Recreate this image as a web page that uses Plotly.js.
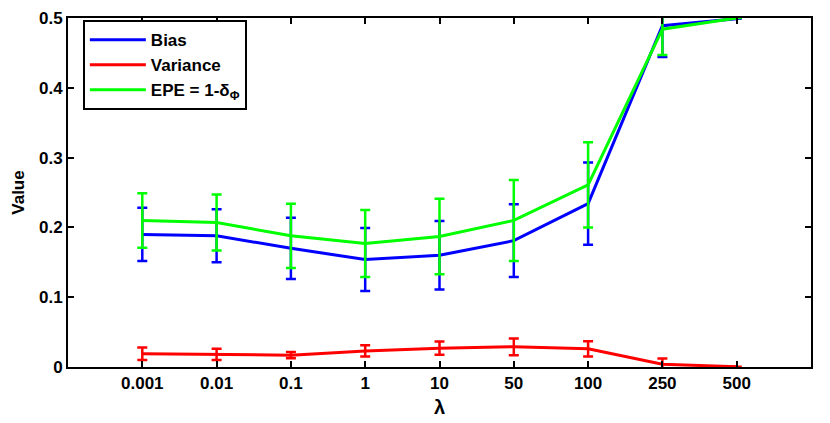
<!DOCTYPE html>
<html>
<head>
<meta charset="utf-8">
<script src="https://cdn.plot.ly/plotly-3.0.1.min.js"></script>
<style>html,body{margin:0;padding:0;background:#fff;}#chart{width:830px;height:423px;}</style>
</head>
<body>
<div id="chart"></div>
<script>
var lambdas = ["0.001", "0.01", "0.1", "1", "10", "50", "100", "250", "500"];
var biasValues = [0.190, 0.188, 0.170, 0.154, 0.160, 0.181, 0.234, 0.489, 0.499];
var biasErr = [0.038, 0.038, 0.044, 0.045, 0.049, 0.052, 0.059, 0.045, 0];
var varianceValues = [0.019, 0.018, 0.017, 0.023, 0.027, 0.029, 0.026, 0.004, 0.0003];
var varianceErr = [0.009, 0.008, 0.0045, 0.008, 0.0095, 0.012, 0.011, 0.008, 0];
var epeValues = [0.210, 0.207, 0.188, 0.177, 0.187, 0.210, 0.261, 0.484, 0.500];
var epeErr = [0.039, 0.040, 0.046, 0.048, 0.054, 0.058, 0.061, 0.037, 0];
var yTicks = [0, 0.1, 0.2, 0.3, 0.4, 0.5];
var yTickText = ["0", "0.1", "0.2", "0.3", "0.4", "0.5"];

function series(name, y, err, color) {
  return {
    type: "scatter", mode: "lines", name: name,
    x: lambdas, y: y,
    line: {color: color, width: 3},
    error_y: {type: "data", array: err, visible: true, color: color, thickness: 2.5, width: 5}
  };
}

var data = [
  series("Bias", biasValues, biasErr, "#0000ff"),
  series("Variance", varianceValues, varianceErr, "#ff0000"),
  series("EPE = 1-δ<sub>Φ</sub>", epeValues, epeErr, "#00ff00")
];

var fontFam = "Liberation Sans, Arial, sans-serif";
var layout = {
  width: 830, height: 423,
  margin: {l: 68, r: 19, t: 18, b: 56},
  paper_bgcolor: "#fff", plot_bgcolor: "#fff",
  font: {family: fontFam, color: "#000", size: 17, weight: "bold"},
  showlegend: true,
  legend: {
    x: 0.02, y: 0.994, xanchor: "left", yanchor: "top",
    bgcolor: "#fff", bordercolor: "#000", borderwidth: 2,
    font: {family: fontFam, size: 17, color: "#000", weight: "bold"},
    itemwidth: 56,
    tracegroupgap: 0
  },
  xaxis: {
    type: "category", range: [-1, 9],
    showline: true, linecolor: "#000", linewidth: 2, mirror: "ticks",
    ticks: "inside", ticklen: 6, tickwidth: 2, tickcolor: "#000",
    showgrid: false, zeroline: false,
    tickfont: {family: fontFam, size: 17, color: "#000", weight: "bold"},
    title: {text: "λ", font: {family: fontFam, size: 20, color: "#000", weight: "bold"}, standoff: 8}
  },
  yaxis: {
    range: [0, 0.5],
    tickvals: yTicks, ticktext: yTickText,
    showline: true, linecolor: "#000", linewidth: 2, mirror: "ticks",
    ticks: "inside", ticklen: 6, tickwidth: 2, tickcolor: "#000",
    showgrid: false, zeroline: false,
    tickfont: {family: fontFam, size: 17, color: "#000", weight: "bold"},
    title: {text: "Value", font: {family: fontFam, size: 17, color: "#000", weight: "bold"}, standoff: 10}
  }
};

Plotly.newPlot("chart", data, layout, {displayModeBar: false, staticPlot: true});
</script>
</body>
</html>
